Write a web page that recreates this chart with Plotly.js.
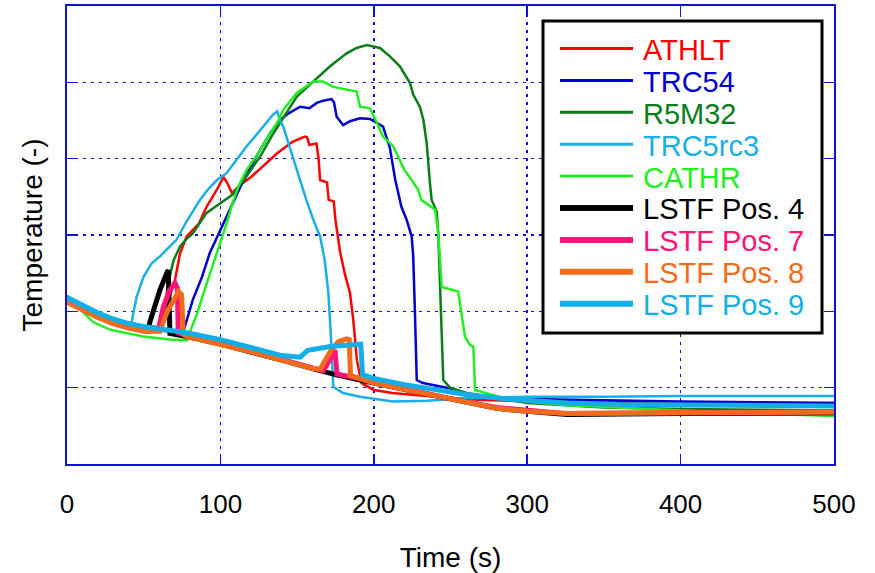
<!DOCTYPE html>
<html>
<head>
<meta charset="utf-8">
<script src="https://cdn.plot.ly/plotly-3.0.1.min.js"></script>
<style>
html,body{margin:0;padding:0;background:#fff;}
#chart{width:875px;height:573px;}
</style>
</head>
<body>
<div id="chart"></div>
<script>
// ---- Data ----
const seriesNames = ['ATHLT','TRC54','R5M32','TRC5rc3','CATHR','LSTF Pos. 4','LSTF Pos. 7','LSTF Pos. 8','LSTF Pos. 9'];
const xTicks = [0,100,200,300,400,500];

const athltT = [0,10,20,30,40,50,61.5,65,70.4,73.7,78,82,86,91,97.6,102,104.5,107.5,113,120,128,137,147,155,156.5,158,162.6,164,165,169.5,170.6,173.9,175,178,181,184.5,186.6,189,192,200,212,240,270,300,350,400,450,500];
const athltY = [2.16,2.05,1.96,1.88,1.82,1.78,1.80,2.06,2.41,2.76,2.98,3.07,3.15,3.37,3.59,3.76,3.68,3.55,3.66,3.76,3.90,4.07,4.22,4.29,4.28,4.18,4.20,4.00,3.72,3.69,3.46,3.44,3.20,2.78,2.50,2.24,1.89,1.36,1.06,0.97,0.93,0.88,0.84,0.82,0.81,0.81,0.80,0.80];

const trc54T = [0,10,20,30,40,50,60,70,75.6,82,88,93,102,108,113,120,126,133,139,145,152,158,162.8,167,172.5,174,175.8,180,184.5,191,197.5,202,206,210.5,214,218,221.4,224.7,225.7,226.9,228,232,247.5,262.7,280,300,350,400,450,500];
const trc54Y = [2.17,2.06,1.96,1.88,1.82,1.78,1.75,1.73,1.72,2.15,2.45,2.76,3.15,3.40,3.63,3.90,4.12,4.35,4.51,4.60,4.68,4.66,4.73,4.76,4.78,4.74,4.55,4.44,4.49,4.53,4.52,4.47,4.42,4.14,3.72,3.37,3.20,2.98,2.72,1.93,1.10,1.06,1.00,0.90,0.87,0.85,0.83,0.82,0.81,0.80];

const r5m32T = [0,10,20,30,40,50,60,62.8,66,69.5,73.7,78,82,91,100,108,117,126,134.5,139,149.7,160.5,171.5,182.3,188.8,195.4,204,210.5,217,223.6,225.7,230,232.3,234.5,235.5,236.6,237.7,241,242,243,244.3,245.3,249.7,260.6,275.8,300,350,400,450,500];
const r5m32Y = [2.20,2.09,1.99,1.91,1.85,1.81,1.79,1.93,2.37,2.67,2.85,2.95,3.02,3.29,3.42,3.53,3.77,4.03,4.33,4.47,4.81,5.01,5.21,5.38,5.45,5.49,5.45,5.34,5.21,4.99,4.84,4.68,4.51,4.20,3.90,3.68,3.46,3.31,3.03,2.37,1.49,1.10,1.00,0.93,0.88,0.80,0.74,0.72,0.71,0.70];

const trc5rc3T = [0,10,20,30,40,42,45.4,49.8,55.2,60.6,67,71.5,78,86.7,92,97.8,104,110,117,125,134,137,139,141,145,147.5,152,156,160.6,165,168,170.4,171.9,173.6,180,191,212.5,234.5,260,300,350,400,450,500];
const trc5rc3Y = [2.16,2.05,1.95,1.88,1.84,1.85,2.19,2.45,2.63,2.72,2.85,2.94,3.18,3.46,3.60,3.72,3.81,3.97,4.16,4.35,4.57,4.62,4.50,4.42,4.16,4.03,3.72,3.46,3.20,2.98,2.67,2.24,1.72,1.01,0.93,0.88,0.82,0.83,0.86,0.88,0.88,0.89,0.89,0.89];

const cathrT = [0,10,17,28,49.6,67,78,80,85,89,95,100,104,108,112,117,124,130,137,141,149.7,160.6,167,173.6,182.3,188.8,191,197.5,202,206,212.7,217,220,224.7,229,231,237.7,240,242,244.3,255,257.3,259.4,262.7,264.9,266,282,300,326,400,450,500];
const cathrY = [2.15,2.00,1.86,1.76,1.67,1.63,1.62,1.72,1.98,2.24,2.60,2.90,3.15,3.42,3.65,3.85,4.05,4.25,4.47,4.64,4.86,5.01,5.01,4.94,4.90,4.88,4.68,4.66,4.47,4.29,4.16,3.98,3.85,3.72,3.59,3.46,3.37,3.33,3.03,2.32,2.26,1.98,1.67,1.56,1.54,0.97,0.88,0.82,0.77,0.70,0.66,0.63];

const pos4T = [0,10,20,30,40,50,53,54,58.5,60.6,65,66,67.1,78,100,120,140,160,175,200,220,240,256,280,300,326,400,500];
const pos4Y = [2.13,2.03,1.93,1.85,1.79,1.75,1.74,1.86,2.15,2.28,2.50,2.54,1.71,1.67,1.57,1.47,1.36,1.25,1.17,1.06,0.98,0.89,0.82,0.73,0.69,0.65,0.66,0.67];

const pos7T = [0,10,20,30,40,50,59.5,62.8,67,70.4,72,72.5,78,100,120,140,160,167,169.5,172.7,174.7,176,200,220,240,256,280,300,326,400,500];
const pos7Y = [2.14,2.04,1.94,1.86,1.80,1.76,1.75,2.06,2.28,2.37,2.30,1.72,1.68,1.58,1.48,1.37,1.26,1.22,1.30,1.40,1.49,1.18,1.07,0.99,0.90,0.83,0.74,0.70,0.66,0.67,0.68];

const pos8T = [0,10,20,30,40,50,60.6,65,69.3,72.6,74.7,75.8,78,100,120,140,160,165,171.5,176.7,182.3,184,184.8,200,220,240,256,280,300,326,400,500];
const pos8Y = [2.12,2.02,1.92,1.84,1.78,1.74,1.74,1.98,2.15,2.26,2.22,1.70,1.67,1.57,1.47,1.36,1.25,1.24,1.47,1.60,1.64,1.63,1.16,1.06,0.98,0.89,0.82,0.73,0.69,0.66,0.67,0.68];

const pos9T = [0,10,20,30,40,50,60,78,100,120,140,152,157,171.5,182.3,190,191.5,192.7,200,220,240,260,282,300,326,360,400,450,500];
const pos9Y = [2.18,2.08,1.98,1.90,1.84,1.80,1.77,1.72,1.63,1.53,1.42,1.40,1.49,1.54,1.56,1.58,1.57,1.17,1.12,1.04,0.97,0.91,0.86,0.83,0.80,0.78,0.77,0.76,0.76];

const seriesX = [athltT,trc54T,r5m32T,trc5rc3T,cathrT,pos4T,pos7T,pos8T,pos9T];
const seriesY = [athltY,trc54Y,r5m32Y,trc5rc3Y,cathrY,pos4Y,pos7Y,pos8Y,pos9Y];

// ---- Styles ----
const colors = ['#ff0000','#0000cc','#0a7d1a','#19aee6','#22ee22','#000000','#ff1478','#f26b1d','#12aee8'];
const widths = [2.5,2.5,2.5,2.5,2.5,5,5,5,5];
const axisBlue = '#1010d8';
const FONT = 'Liberation Sans, Arial, sans-serif';

// plot-area geometry (px) used only to place the hand-made legend box
const PL = 67, PR = 834, PT = 6, PB = 464;
const px2x = p => (p - PL) / (PR - PL);
const px2y = p => (PB - p) / (PB - PT);

const traces = seriesNames.map((n,i)=>({
  type:'scatter', mode:'lines',
  x: seriesX[i], y: seriesY[i],
  name: n, showlegend:false,
  line:{color:colors[i], width:widths[i]}
}));

// Legend (box + samples + coloured labels)
const shapes = [{
  type:'rect', xref:'paper', yref:'paper', layer:'above',
  x0:px2x(543), x1:px2x(822), y0:px2y(333), y1:px2y(21),
  fillcolor:'#ffffff', line:{color:'#000000', width:3}
}];
const annotations = [];
const rowY0 = 48.5, rowStep = 31.9;
seriesNames.forEach((n,i)=>{
  const yy = rowY0 + i*rowStep;
  shapes.push({
    type:'line', xref:'paper', yref:'paper', layer:'above',
    x0:px2x(560), x1:px2x(633), y0:px2y(yy), y1:px2y(yy),
    line:{color:colors[i], width: i<5 ? 3 : 6}
  });
  annotations.push({
    xref:'paper', yref:'paper', x:px2x(641), y:px2y(yy+1.5),
    xanchor:'left', yanchor:'middle', showarrow:false,
    text:n, font:{family:FONT, size:29, color:colors[i]}
  });
});

const layout = {
  width:875, height:573,
  margin:{l:PL, r:875-PR, t:PT, b:573-PB},
  paper_bgcolor:'#ffffff', plot_bgcolor:'#ffffff',
  font:{family:FONT, color:'#000', size:26},
  showlegend:false,
  shapes: shapes,
  annotations: annotations,
  xaxis:{
    range:[0,500], tickmode:'array', tickvals:xTicks, ticktext:xTicks.map(String),
    showgrid:true, gridcolor:axisBlue, gridwidth:1.5, griddash:'3px,5px',
    zeroline:false, showline:true, linecolor:axisBlue, linewidth:2, mirror:'ticks',
    ticks:'inside', ticklen:10, tickcolor:axisBlue, tickwidth:1.5,
    ticklabelstandoff:16,
    tickfont:{family:FONT, size:26, color:'#000'},
    title:{text:'Time (s)', font:{family:FONT, size:28, color:'#000'}, standoff:30}
  },
  yaxis:{
    range:[0,6], tickmode:'linear', tick0:0, dtick:1, showticklabels:false,
    showgrid:true, gridcolor:axisBlue, gridwidth:1.5, griddash:'3px,5px',
    zeroline:false, showline:true, linecolor:axisBlue, linewidth:2, mirror:'ticks',
    ticks:'inside', ticklen:10, tickcolor:axisBlue, tickwidth:1.5,
    title:{text:'Temperature (-)', font:{family:FONT, size:28, color:'#000'}, standoff:14}
  }
};

Plotly.newPlot('chart', traces, layout, {staticPlot:true, displayModeBar:false});
</script>
</body>
</html>
